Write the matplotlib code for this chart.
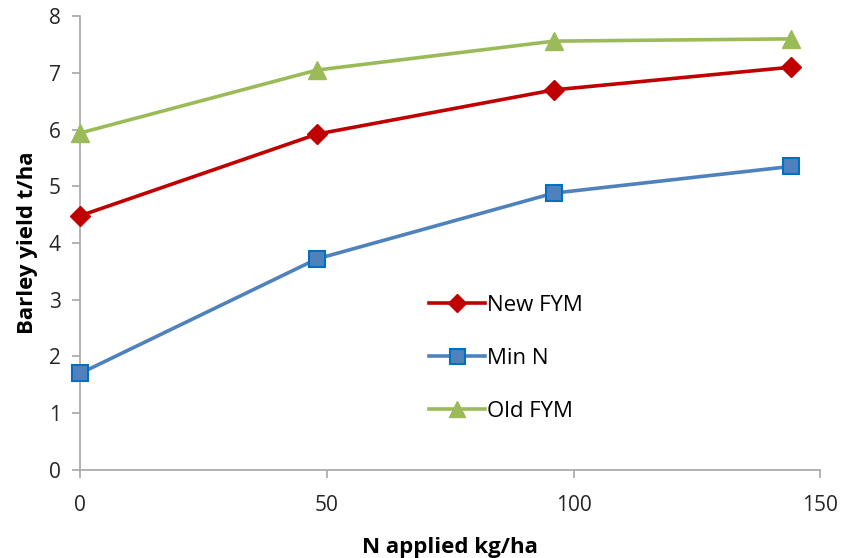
import matplotlib.pyplot as plt

# data
n_applied = [0, 48, 96, 144]
new_fym = [4.48, 5.92, 6.70, 7.10]
min_n = [1.70, 3.72, 4.88, 5.35]
old_fym = [5.94, 7.05, 7.56, 7.60]

plt.rcParams['font.family'] = ['Open Sans', 'DejaVu Sans']

fig = plt.figure(figsize=(8.43, 5.58), dpi=100)
ax = fig.add_axes([0.095, 0.158, 0.878, 0.813])

ax.plot(n_applied, new_fym, color="#C00000", lw=2.6, marker="D", ms=10,
        mec="#C00000", mfc="#C00000", label="New FYM", zorder=3)
ax.plot(n_applied, min_n, color="#4F81BD", lw=2.6, marker="s", ms=12,
        mec="#0070C0", mfc="#4F81BD", mew=1.5, label="Min N", zorder=3)
ax.plot(n_applied, old_fym, color="#9BBB59", lw=2.6, marker="^", ms=13,
        mec="#9BBB59", mfc="#9BBB59", label="Old FYM", zorder=3)

ax.set_xlim(0, 150)
ax.set_ylim(0, 8)
ax.set_xticks([0, 50, 100, 150])
ax.set_yticks(range(0, 9))

for s in ["top", "right"]:
    ax.spines[s].set_visible(False)
for s in ["left", "bottom"]:
    ax.spines[s].set_color("#A6A6A6")
    ax.spines[s].set_linewidth(1.2)
ax.tick_params(colors="#A6A6A6", labelcolor="#262626", labelsize=15,
               length=6, width=1.2, direction="out")
ax.tick_params(axis="x", pad=12)
ax.tick_params(axis="y", pad=8)

ax.set_xlabel("N applied kg/ha", fontsize=16, fontweight="bold", labelpad=15)
ax.set_ylabel("Barley yield t/ha", fontsize=16, fontweight="bold", labelpad=8)

ax.legend(loc="upper left", bbox_to_anchor=(0.445, 0.43), frameon=False,
          fontsize=16, labelspacing=1.45, handlelength=2.5, handletextpad=0.1,
          markerscale=0.9)

for line in ax.lines:
    line.set_clip_on(False)

fig.savefig("out.png", dpi=100)
